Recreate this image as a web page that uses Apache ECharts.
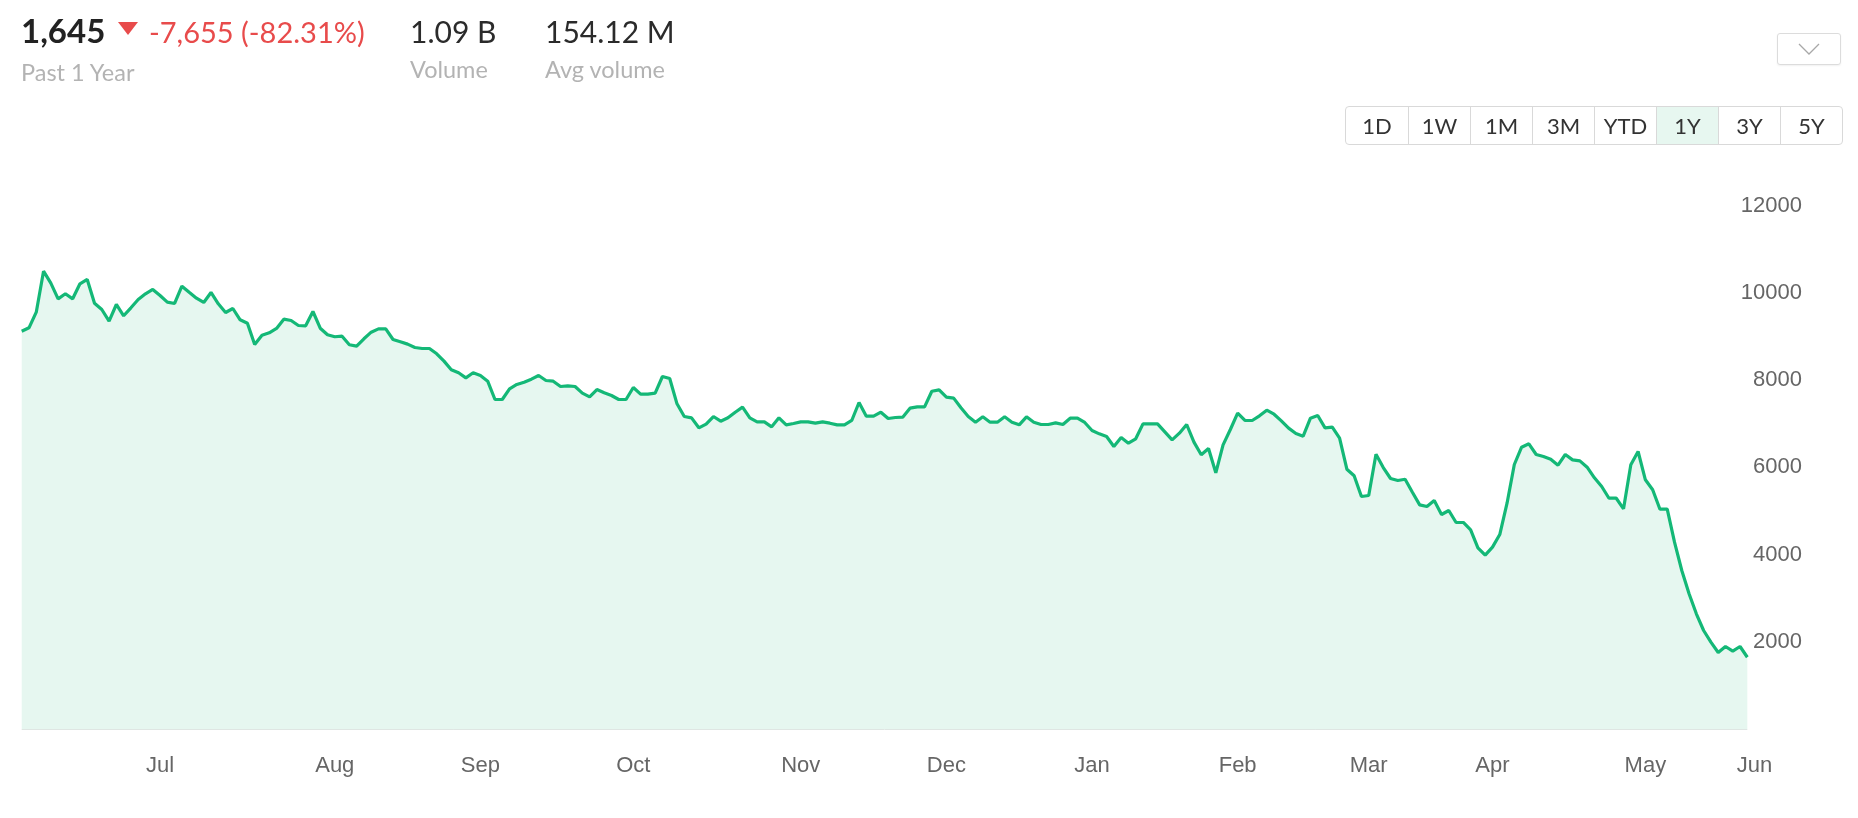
<!DOCTYPE html>
<html>
<head>
<meta charset="utf-8">
<script src="https://cdn.jsdelivr.net/npm/echarts@6/dist/echarts.min.js"></script>
<style>
  html, body { margin: 0; padding: 0; background: #fff; }
  body { width: 1858px; height: 818px; position: relative; overflow: hidden; font-family: 'Lato', 'Noto Sans', sans-serif; }
  #chart { position: absolute; left: 0; top: 0; width: 1858px; height: 818px; }
  .t { position: absolute; white-space: nowrap; line-height: 1; }
  .big { font-size: 33px; font-weight: 700; color: #222; }
  .chg { font-size: 29px; color: #e84b4b; }
  .num { font-size: 30px; color: #2b2b2b; }
  .sub { font-size: 23.5px; color: #b3b3b3; }
  .tri { position: absolute; left: 118px; top: 22px; width: 0; height: 0;
         border-left: 10px solid transparent; border-right: 10px solid transparent; border-top: 13px solid #e84b4b; }
  .drop { position: absolute; left: 1777px; top: 33px; width: 62px; height: 30px; border: 1px solid #dcdcdc;
          border-radius: 3px; box-shadow: 0 1px 2px rgba(0,0,0,0.06); background: #fff; }
  .drop svg { position: absolute; left: 20px; top: 8px; }
  .range { position: absolute; left: 1345px; top: 106px; height: 37px; border: 1px solid #d9d9d9; border-radius: 4px;
           display: flex; overflow: hidden; background: #fff; }
  .range div { width: 61px; height: 37px; line-height: 37px; text-align: center; font-size: 22px; color: #333;
               border-left: 1px solid #d9d9d9; }
  .range div:first-child { border-left: none; width: 62px; }
  .range div.on { background: #e7f7f0; }
</style>
</head>
<body>
<div id="chart"></div>

<div class="t big" style="left:21px; top:14px;">1,645</div>
<div class="tri"></div>
<div class="t chg" style="left:149px; top:17px;">-7,655 (-82.31%)</div>
<div class="t num" style="left:410px; top:16px;">1.09 B</div>
<div class="t num" style="left:545px; top:16px;">154.12 M</div>
<div class="t sub" style="left:21px; top:61px;">Past 1 Year</div>
<div class="t sub" style="left:410px; top:58px;">Volume</div>
<div class="t sub" style="left:545px; top:58px;">Avg volume</div>

<div class="drop"><svg width="22" height="14"><polyline points="1,2 11,12 21,2" fill="none" stroke="#a8a8a8" stroke-width="1.3"/></svg></div>
<div class="range" id="range"></div>

<script>
// daily closes, past 1 year
const closes = [
  9119, 9196, 9555, 10495, 10220, 9861, 9976, 9861, 10205, 10304, 9761, 9616, 9349, 9731, 9472, 9655,
  9846, 9976, 10075, 9937, 9784, 9754, 10151, 10013, 9876, 9777, 10006, 9747, 9547, 9639, 9380, 9302,
  8814, 9027, 9082, 9181, 9394, 9364, 9249, 9242, 9570, 9187, 9036, 8991, 9004, 8807, 8775, 8945,
  9096, 9173, 9173, 8928, 8875, 8822, 8745, 8722, 8722, 8600, 8432, 8234, 8165, 8050, 8165, 8103,
  7973, 7553, 7553, 7798, 7897, 7950, 8019, 8103, 7989, 7973, 7851, 7867, 7851, 7698, 7614, 7782,
  7706, 7645, 7553, 7553, 7828, 7675, 7675, 7698, 8080, 8034, 7454, 7163, 7133, 6904, 6990,
  7163, 7056, 7133, 7262, 7377, 7133, 7041, 7041, 6927, 7133, 6972, 7003, 7041, 7041, 7010, 7041,
  7010, 6972, 6972, 7072, 7484, 7171, 7171, 7262, 7117, 7140, 7148, 7354, 7385, 7385, 7743, 7775,
  7607, 7584, 7362, 7163, 7033, 7156, 7033, 7033, 7156, 7033, 6972, 7156, 7033, 6980, 6980, 7018,
  6980, 7125, 7125, 7026, 6842, 6766, 6705, 6476, 6682, 6552, 6652, 6995, 6995, 6995, 6812, 6629,
  6781, 6980, 6575, 6285, 6430, 5873, 6514, 6865, 7240, 7072, 7072, 7179, 7308, 7216, 7064, 6896,
  6774, 6713, 7125, 7186, 6904, 6919, 6666, 5955, 5804, 5330, 5352, 6299, 5994, 5742, 5696,
  5726, 5428, 5138, 5100, 5238, 4917, 5009, 4734, 4734, 4566, 4154, 3984, 4168, 4458, 5176, 6063,
  6460, 6537, 6292, 6246, 6185, 6047, 6292, 6170, 6147, 6001, 5758, 5559, 5290, 5290, 5047, 6055,
  6361, 5712, 5483, 5038, 5038, 4282, 3633, 3099, 2641, 2258, 1990, 1753, 1891, 1783, 1891, 1645
]

// month tick labels and the point index where each month starts
const monthLabels = ['Jul', 'Aug', 'Sep', 'Oct', 'Nov', 'Dec', 'Jan', 'Feb', 'Mar', 'Apr', 'May', 'Jun']
const monthStarts = [19, 43, 63, 84, 107, 127, 147, 167, 185, 202, 223, 238]

const yTicks = [0, 2000, 4000, 6000, 8000, 10000, 12000]
const ranges = ['1D', '1W', '1M', '3M', 'YTD', '1Y', '3Y', '5Y']
const activeRange = '1Y'

// range buttons
const rangeEl = document.getElementById('range')
ranges.forEach(r => {
  const b = document.createElement('div')
  b.textContent = r
  if (r === activeRange) b.className = 'on'
  rangeEl.appendChild(b)
})

// one category per point, plus padding up to the Jun tick
const categories = []
for (let i = 0; i <= monthStarts[monthStarts.length - 1]; i++) categories.push(String(i))

const chart = echarts.init(document.getElementById('chart'))
chart.setOption({
  animation: false,
  grid: {
    left: 21.7,
    right: 103.4,
    top: 205.5,
    bottom: 89
  },
  xAxis: {
    type: 'category',
    data: categories,
    boundaryGap: false,
    axisLine: { show: false },
    axisTick: { show: false },
    splitLine: { show: false },
    axisLabel: {
      interval: (idx) => monthStarts.indexOf(idx) !== -1,
      formatter: (val, idx) => monthLabels[monthStarts.indexOf(idx)] || '',
      margin: 26,
      fontSize: 22,
      color: '#666',
      fontFamily: 'Liberation Sans'
    }
  },
  yAxis: {
    type: 'value',
    position: 'right',
    min: yTicks[0],
    max: yTicks[yTicks.length - 1],
    interval: yTicks[1] - yTicks[0],
    axisLine: { show: false },
    axisTick: { show: false },
    splitLine: { show: false },
    axisLabel: {
      showMinLabel: false,
      formatter: (v) => String(v),
      align: 'right',
      margin: 47.4,
      fontSize: 22,
      color: '#666',
      fontFamily: 'Liberation Sans'
    }
  },
  series: [{
    type: 'line',
    data: closes,
    showSymbol: false,
    symbol: 'none',
    lineStyle: { color: '#14b877', width: 3.2 },
    itemStyle: { color: '#14b877' },
    areaStyle: { color: '#e6f7f0', opacity: 1 },
    markLine: {
      silent: true,
      symbol: 'none',
      label: { show: false },
      lineStyle: { color: '#dfe6e3', width: 1, type: 'solid' },
      data: [[{ coord: [categories[0], 0] }, { coord: [categories[closes.length - 1], 0] }]]
    }
  }]
})
</script>
</body>
</html>
